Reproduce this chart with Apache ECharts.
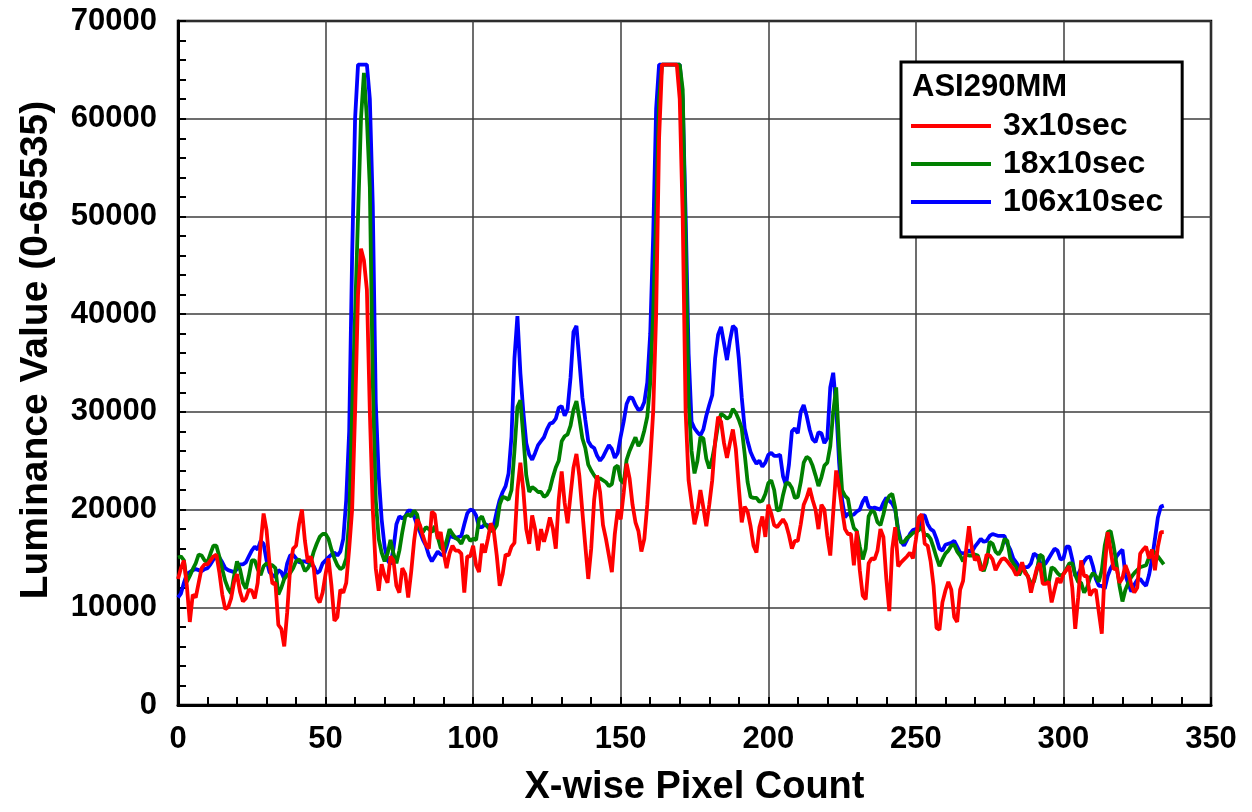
<!DOCTYPE html>
<html><head><meta charset="utf-8">
<script src="https://cdn.jsdelivr.net/npm/echarts@6/dist/echarts.min.js"></script>
<style>html,body{margin:0;padding:0;background:#fff}#c{width:1252px;height:812px}</style>
</head><body><div id="c"></div>
<script>
// Legend heading and series names
const legendTitle = 'ASI290MM';
const seriesNames = ['3x10sec', '18x10sec', '106x10sec'];
const xTitle = 'X-wise Pixel Count';
const yTitle = 'Luminance Value (0-65535)';
// x = pixel index 0..334 (array position)
const red = [
12900,14000,14800,12200,8500,11300,11000,12500,14000,14400,
14400,14800,15200,15400,13600,11300,9800,10000,10900,12600,
13400,11600,10600,10900,11800,11700,10900,12500,16500,19600,
17900,14500,12400,12500,8200,7800,6000,9500,14000,16000,
16300,18500,20000,16800,14600,15200,14000,11000,10500,11500,
13400,15000,12200,8600,9000,11800,11500,12500,16000,20000,
30000,42000,46700,45500,42500,30000,20000,14000,11700,14400,
13200,12500,15200,14800,12200,11500,14000,13400,11000,13600,
16800,19000,18400,17300,16400,16000,19800,19500,17000,17700,
15600,14000,15500,16300,15800,15800,15500,11500,15200,15200,
16300,14300,13600,16500,15600,17000,18600,17800,15300,12200,
13400,15400,15300,16200,16600,22000,24800,22000,18000,16500,
19400,18000,15800,18000,16700,17800,19200,18100,16000,21000,
23900,20700,18600,21500,24300,25700,23400,19800,16300,12900,
16000,21000,23500,21800,18400,17000,15300,13600,17500,20000,
19000,21700,24700,23200,20500,18700,17800,15700,17000,20500,
25000,30000,40000,58000,65535,65535,65535,65535,65535,65535,
62000,50000,30000,23000,20700,18500,19800,22000,20200,18300,
20500,23000,27000,29500,29000,26800,25300,26800,28200,26200,
22300,18700,20300,19800,18300,16300,15600,18200,19300,17200,
20500,19600,18400,18200,18600,19000,18500,17400,16000,16800,
16800,18500,20500,21200,22200,21000,20000,18000,20500,20000,
17300,15300,19700,24000,22300,20000,18000,17500,17500,14300,
17800,13800,11200,10800,14500,15000,14900,15800,18000,17200,
12900,9600,16000,18200,14200,14600,14900,15200,15600,15000,
16900,19200,19500,16500,16300,14700,12200,7900,7700,10500,
11700,12600,11800,9000,8500,11800,12700,15800,18300,16000,
14800,15200,13800,14000,15400,15300,14900,13800,14400,14900,
15000,14700,14300,13900,13300,13600,14600,13500,13200,11500,
12800,14000,14500,12400,12400,12600,10500,11800,13000,12500,
13400,13800,14200,12000,7800,11000,14800,13200,13200,11200,
11700,11800,9500,7300,14000,17700,15800,13900,14000,12500,
13000,14300,13500,12300,11500,12000,15500,15900,16200,15000,
15900,13800,16200,17700,17700
];
const green = [
15100,15200,14800,12600,13200,13900,14500,15400,15300,14800,
14600,15500,16300,16300,15200,13900,12700,11900,11400,13200,
14700,13900,12500,11900,13200,14800,14800,13900,13300,14200,
14500,14300,14300,14000,11300,12000,12900,13300,13500,14000,
14700,14900,14500,13700,14000,14600,15700,16500,17200,17500,
17500,17000,15900,15000,14300,13900,14100,15000,19000,30000,
40000,50000,60000,64700,60000,53000,33000,21000,17000,15600,
14700,15500,16900,15500,14500,15800,17700,19300,19500,19300,
19900,19500,18000,17700,18200,18000,17700,18300,17200,16100,
15800,16800,18000,17500,17100,16900,16500,17200,17300,16800,
17000,16900,19000,19300,18500,18200,17800,17900,18400,20500,
21300,21200,21000,22000,26000,30500,31200,27500,23500,21800,
22300,22100,21800,21800,21300,21500,22100,23300,24300,25000,
27000,27500,27700,28600,30200,31100,29300,27300,26300,24600,
24000,23500,23100,23200,23000,22800,22400,22600,24300,24500,
23000,22700,25100,26000,26700,27400,26500,27000,28100,29500,
33000,40000,50000,62000,65535,65535,65535,65535,65535,65535,
65535,63000,47000,31000,26000,23700,25000,27400,27300,25200,
24200,25200,26800,28700,29800,29600,29300,29500,30300,29900,
29200,28300,25700,22800,21300,21200,21200,20800,20900,21600,
22700,23000,22000,19900,20000,21500,22700,22700,22200,21200,
21300,22800,24800,25400,25200,24500,23500,22400,23300,24500,
24800,26500,30000,32500,26500,22000,21400,21100,19300,18100,
17800,16200,14900,16000,19300,19900,19700,18700,18400,19500,
20800,21400,21600,20200,17600,16600,16700,17100,17300,17600,
17700,17900,18200,17400,17400,17000,16100,15100,14200,14900,
15500,15800,16300,16400,15700,15300,14700,15400,15300,15300,
15400,15300,14300,13700,14600,16700,16500,15700,15400,15900,
17000,16800,15000,14500,14100,13300,13900,13700,13100,12500,
12600,13800,15400,15200,12500,12500,14100,13900,13500,13200,
13400,13900,14500,14500,13300,12600,12500,11500,12000,13000,
13500,13200,12600,13800,16300,17700,17800,16300,14400,12200,
10600,11800,12500,13100,13500,13800,14100,14200,14300,15100,
15800,15600,15200,14800,14400
];
const blue = [
11000,11400,12500,13400,13600,13800,13900,13800,13700,13900,
14000,14400,14900,15100,15100,14600,14000,13800,13700,13600,
13900,14400,14400,14600,15200,15800,16200,15900,16800,16500,
14800,13600,13300,13100,13800,13600,12900,14500,15300,15400,
15000,14600,14700,14700,14600,14400,14200,13500,13700,14500,
14800,15100,15400,15600,15300,15700,17000,21000,28000,46000,
60000,65535,65535,65535,65535,62000,51000,31000,23500,19000,
16200,14800,14400,16000,18500,19300,19100,19300,19900,19900,
19300,18400,17700,16900,16300,15300,14700,15200,15700,15400,
15300,16200,17300,17200,17100,17200,17300,18500,19600,20000,
19900,19400,18200,18200,18500,18400,18000,18400,19800,21000,
21800,22400,23700,27500,35500,39800,34000,30000,26800,25600,
25100,25800,26600,27000,27400,28200,28800,28900,29300,30400,
30600,29600,30300,33500,38200,38800,35200,31500,29200,27000,
26500,26300,25500,25000,25400,26000,26600,26200,25300,25800,
27500,29000,30800,31500,31400,30700,30200,30300,31000,33000,
38000,48000,61000,65535,65535,65535,65535,65535,65535,65535,
65535,62000,50000,36000,29000,28300,27900,27600,28200,29600,
30700,31700,35500,37900,38700,37000,35300,37300,38800,38500,
35500,31500,28300,27000,25900,25200,24700,25000,24400,24800,
25600,25800,25500,25500,25600,23400,22500,24600,28000,28300,
27800,30000,30700,29600,28200,27200,26900,27900,27800,26800,
27300,32500,34000,30500,24800,21000,19200,19600,19400,19500,
19800,20000,20800,21300,20300,20100,20200,20100,20000,20700,
21200,20900,20600,20000,18000,16700,16300,16900,17500,17900,
18000,18100,19400,19400,18500,18000,17800,17000,16000,15800,
16400,16500,16600,16800,16200,15600,15500,15600,15800,15700,
16200,16600,17000,16700,16800,17300,17500,17400,17300,17300,
17300,16500,15900,15000,14600,14100,14100,14100,14100,14500,
15500,15300,14600,14300,14500,15000,15500,16000,15800,14900,
15000,16200,16200,14900,13200,13400,14000,14700,15100,15200,
14200,12900,12200,12200,11900,13200,14000,14500,15200,15600,
15900,13300,12400,11600,12300,12800,12900,12500,12200,13300,
14900,17000,19200,20300,20400
];

const FONT = "'Liberation Sans', Arial, Helvetica, sans-serif";
const pts = arr => arr.map((v, i) => [i, v]);
const plain = v => String(v);

const chart = echarts.init(document.getElementById('c'), null, {renderer: 'canvas'});
chart.setOption({
  animation: false,
  backgroundColor: '#ffffff',
  grid: {left: 178, right: 41, top: 21, bottom: 102, show: true,
         borderColor: '#000', borderWidth: 2.5, backgroundColor: 'transparent'},
  title: {text: legendTitle, left: 912, top: 72, padding: 0, z: 10,
          textStyle: {fontFamily: FONT, fontWeight: 'bold', fontSize: 31, color: '#000'}},
  legend: {
    data: seriesNames, orient: 'vertical', left: 901, top: 62,
    padding: [48, 19, 19, 10], itemGap: 6, itemWidth: 80, itemHeight: 4, icon: 'rect',
    backgroundColor: '#fff', borderColor: '#000', borderWidth: 3,
    textStyle: {fontFamily: FONT, fontWeight: 'bold', fontSize: 32, color: '#000', padding: [0, 0, 0, 7]},
    selectedMode: false, z: 5
  },
  xAxis: {
    type: 'value', min: 0, max: 350, interval: 50,
    name: xTitle, nameLocation: 'middle', nameGap: 64,
    nameTextStyle: {fontFamily: FONT, fontWeight: 'bold', fontSize: 38, color: '#000'},
    axisLine: {show: true, onZero: false, lineStyle: {color: '#000', width: 3}},
    axisTick: {show: true, inside: true, length: 8, lineStyle: {color: '#000', width: 2}},
    minorTick: {show: true, splitNumber: 5, length: 8, lineStyle: {color: '#000', width: 2}},
    splitLine: {show: true, lineStyle: {color: '#3c3c3c', width: 1.5}},
    axisLabel: {margin: 19, fontFamily: FONT, fontWeight: 'bold', fontSize: 31, color: '#000', formatter: plain}
  },
  yAxis: {
    type: 'value', min: 0, max: 70000, interval: 10000,
    name: yTitle, nameLocation: 'middle', nameGap: 122, nameRotate: 90,
    nameTextStyle: {fontFamily: FONT, fontWeight: 'bold', fontSize: 39, color: '#000', padding: [0, 0, 0, 26]},
    axisLine: {show: true, onZero: false, lineStyle: {color: '#000', width: 3}},
    axisTick: {show: true, inside: true, length: 8, lineStyle: {color: '#000', width: 2}},
    minorTick: {show: true, splitNumber: 5, length: 8, lineStyle: {color: '#000', width: 2}},
    splitLine: {show: true, lineStyle: {color: '#3c3c3c', width: 1.5}},
    axisLabel: {margin: 21, fontFamily: FONT, fontWeight: 'bold', fontSize: 31, color: '#000', formatter: plain}
  },
  series: [
    {name: seriesNames[2], type: 'line', data: pts(blue), symbol: 'none', color: '#0000ff',
     lineStyle: {color: '#0000ff', width: 3.8}},
    {name: seriesNames[1], type: 'line', data: pts(green), symbol: 'none', color: '#008000',
     lineStyle: {color: '#008000', width: 3.8}},
    {name: seriesNames[0], type: 'line', data: pts(red), symbol: 'none', color: '#ff0000',
     lineStyle: {color: '#ff0000', width: 3.8}}
  ]
});
</script></body></html>
